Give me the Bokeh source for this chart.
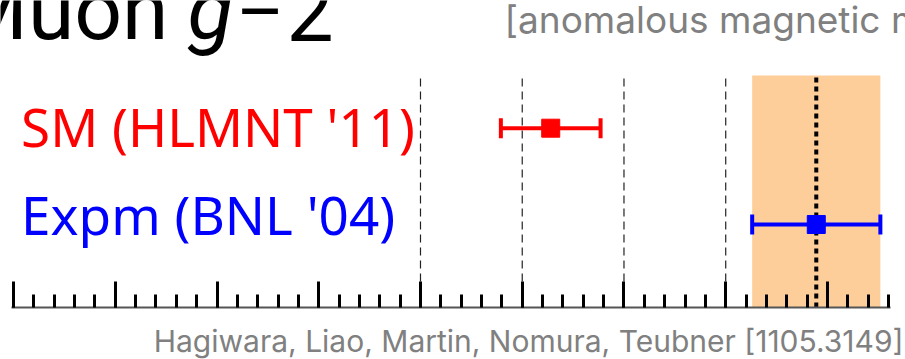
from bokeh.plotting import figure
from bokeh.models import Range1d, FixedTicker
from bokeh.core.properties import value
from bokeh.embed import file_html
from bokeh.resources import INLINE

# ---- data (a_mu x 10^10 - 11659000) ----
labels = ["SM (HLMNT '11)", "Expm (BNL '04)"]
central = [182.8, 208.9]
errors = [4.9, 6.3]
rows = [1, 0]
colors = ["#ff0000", "#0000ff"]

major_ticks = [130, 140, 150, 160, 170, 180, 190, 200, 210]
minor_ticks = [130, 132, 134, 136, 138, 140, 142, 144, 146, 148, 150, 152, 154, 156, 158,
               160, 162, 164, 166, 168, 170, 172, 174, 176, 178, 180, 182, 184, 186, 188,
               190, 192, 194, 196, 198, 200, 202, 204, 206, 208, 210, 212, 214, 216]
ref_lines = [170, 180, 190, 200]
band_center = 208.9
band_error = 6.3

title_main = "Muon"
title_g = "g"
title_minus = "\u2212"
title_two = "2"
subtitle = "[anomalous magnetic moment]"
footer = "Hagiwara, Liao, Martin, Nomura, Teubner [1105.3149]"

# ---- layout constants ----
X0, X1 = 128.72, 217.67
Y0, Y1 = -1.402, 2.326
AXIS_Y = -0.862
AREA_TOP = 1.547
label_y = [1.02, 0.105]

p = figure(width=905, height=359, output_backend="svg", toolbar_location=None,
           x_range=Range1d(X0, X1), y_range=Range1d(Y0, Y1),
           x_axis_location="below", y_axis_location=None,
           min_border_left=0, min_border_right=0, min_border_top=0, min_border_bottom=0)
p.outline_line_color = None
p.grid.visible = False
p.background_fill_color = "white"
p.border_fill_color = "white"

# band (experimental 1 sigma)
p.quad(left=[band_center - band_error], right=[band_center + band_error],
       bottom=[AXIS_Y], top=[AREA_TOP], fill_color="#fdce9a", line_color=None)

# dashed reference lines
p.segment(x0=ref_lines, x1=ref_lines, y0=[AXIS_Y] * len(ref_lines), y1=[AREA_TOP] * len(ref_lines),
          line_color="#222222", line_width=1.2, line_dash="8 5")

# central experimental line
p.segment(x0=[band_center], x1=[band_center], y0=[AXIS_Y], y1=[AREA_TOP],
          line_color="black", line_width=4, line_dash="5 4")

# error bars
lo = [c - e for c, e in zip(central, errors)]
hi = [c + e for c, e in zip(central, errors)]
p.segment(x0=lo, x1=hi, y0=rows, y1=rows, line_color=colors, line_width=4)
p.rect(x=lo + hi, y=rows + rows, width=4, height=20, width_units="screen", height_units="screen",
       fill_color=colors + colors, line_color=None)
p.scatter(x=central, y=rows, marker="square", size=18, fill_color=colors, line_color=colors)

# row labels
p.text(x=[130.74] * 2, y=label_y, text=labels, text_color=colors,
       text_font=value("Noto Sans"), text_font_size="53px",
       text_align="left", text_baseline="alphabetic")

# title
TY = 2.22
p.text(x=[145.23], y=[TY], text=[title_main], text_color="black",
       text_font=value("Roboto"), text_font_size="84px", text_align="right",
       text_baseline="alphabetic")
p.text(x=[147.1], y=[TY], text=[title_g], text_color="black",
       text_font=value("Roboto"), text_font_size="84px", text_font_style="italic",
       text_align="left", text_baseline="alphabetic")
p.text(x=[154.23], y=[TY], text=[title_minus], text_color="black",
       text_font=value("Noto Sans"), text_font_size="76px", text_align="center",
       text_baseline="alphabetic")
p.text(x=[156.83], y=[TY], text=[title_two], text_color="black",
       text_font=value("Roboto"), text_font_size="84px", text_align="left",
       text_baseline="alphabetic")

# subtitle
p.text(x=[178.26], y=[2.125], text=[subtitle], text_color="#808080",
       text_font=value("Inter"), text_font_size="37px", text_align="left",
       text_baseline="alphabetic")

# footer
p.text(x=[217.47], y=[-1.205], text=[footer], text_color="#808080",
       text_font=value("Inter"), text_font_size="30px", text_align="right",
       text_baseline="alphabetic")

# axis
ax = p.xaxis[0]
ax.fixed_location = AXIS_Y
ax.ticker = FixedTicker(ticks=major_ticks, minor_ticks=minor_ticks)
ax.bounds = (129.85, 216.2)
ax.major_tick_in = 26
ax.major_tick_out = 0
ax.minor_tick_in = 13
ax.minor_tick_out = 0
ax.major_tick_line_width = 3
ax.minor_tick_line_width = 3
ax.major_tick_line_color = "black"
ax.minor_tick_line_color = "black"
ax.axis_line_width = 2
ax.axis_line_color = "#555555"
ax.major_label_overrides = {t: "" for t in major_ticks}
ax.major_label_standoff = 0

open("out.html", "w").write(file_html(p, INLINE))
